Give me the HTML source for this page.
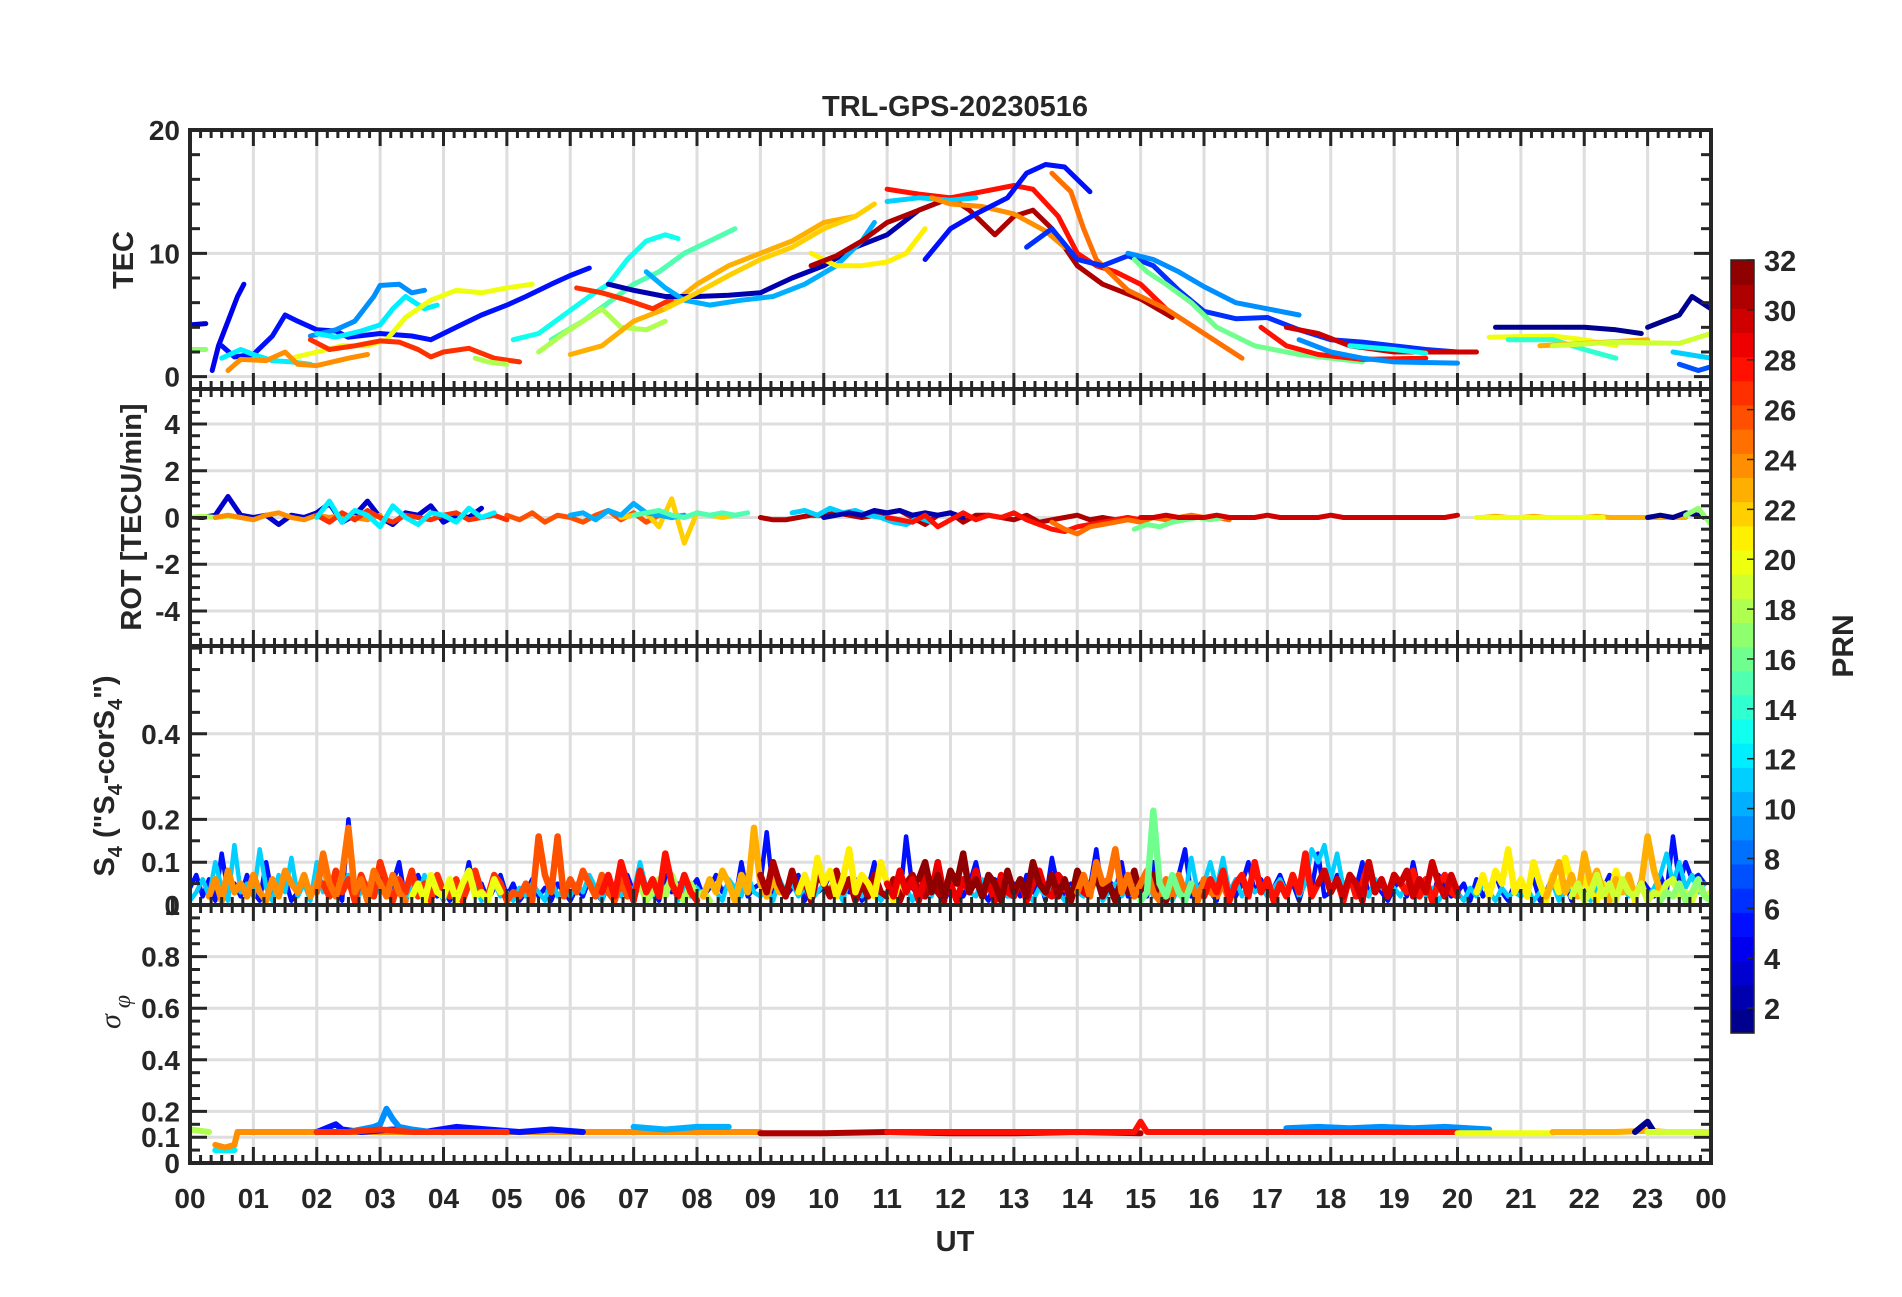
<!DOCTYPE html>
<html><head><meta charset="utf-8"><style>
html,body{margin:0;padding:0;background:#fff}
svg text{font-family:"Liberation Sans",Arial,sans-serif;font-weight:bold;fill:#262626}
</style></head><body>
<svg id="fig" xmlns="http://www.w3.org/2000/svg" width="1902" height="1292" viewBox="0 0 1902 1292">
<rect width="1902" height="1292" fill="#fff"/>
<text x="955" y="116" font-size="29" text-anchor="middle">TRL-GPS-20230516</text>
<text x="955" y="1251" font-size="29" text-anchor="middle">UT</text>
<text transform="translate(133,260) rotate(-90)" font-size="29" text-anchor="middle">TEC</text>
<text transform="translate(141,517) rotate(-90)" font-size="29" text-anchor="middle">ROT [TECU/min]</text>
<text transform="translate(114,776) rotate(-90)" font-size="29" text-anchor="middle">S<tspan font-size="20" dy="8">4</tspan><tspan dy="-8"> ("S</tspan><tspan font-size="20" dy="8">4</tspan><tspan dy="-8">-corS</tspan><tspan font-size="20" dy="8">4</tspan><tspan dy="-8">")</tspan></text>
<text transform="translate(120,1012) rotate(-90)" font-size="30" text-anchor="middle" font-style="italic" style="font-family:'Liberation Serif',serif;font-weight:normal">σ<tspan font-size="24" dy="10"> φ</tspan></text>
<text transform="translate(1853,646) rotate(-90)" font-size="30" text-anchor="middle">PRN</text>
<g id="layer"></g>
</svg>
<script>
// ---------- DATA ----------
const tecPrn = [3,4,5,9,12,12,20,27,24,17,18,13,15,18,23,27,2,10,22,21,31,28,11,24,5,25,6,9,16,30,28,13,9,1,1,20,14,23,19,7,11];
const tecT = [
 [0,0.25],
 [0.35,0.45,0.6,0.75,0.85],
 [0.5,0.7,1.0,1.3,1.5,1.7,2.0,2.3,2.5,3.0,3.5,3.8,4.2,4.6,5.0,5.3,5.7,6.0,6.3],
 [1.9,2.3,2.6,2.9,3.0,3.3,3.5,3.7],
 [0.5,0.8,1.0,1.3,1.6,1.9],
 [2.0,2.3,2.7,3.0,3.2,3.4,3.7,3.9],
 [1.6,2.0,2.4,2.8,3.1,3.4,3.8,4.2,4.6,5.0,5.4],
 [1.9,2.2,2.6,3.0,3.3,3.6,3.8,4.0,4.4,4.8,5.2],
 [0.6,0.8,1.2,1.5,1.7,2.0,2.5,2.8],
 [0,0.25],
 [4.5,4.7,5.0],
 [5.1,5.5,5.9,6.3,6.6,6.9,7.2,7.5,7.7],
 [5.7,6.2,6.6,7.0,7.4,7.8,8.2,8.6],
 [5.5,5.9,6.2,6.5,6.8,7.2,7.5],
 [6.0,6.5,7.0,7.5,8.0,8.5,9.0,9.5,10.0,10.5],
 [6.1,6.5,6.9,7.3,7.6],
 [6.6,7.0,7.5,8.0,8.5,9.0,9.5,10.0,10.5,11.0,11.5,12.0],
 [7.2,7.5,7.8,8.2,8.7,9.2,9.7,10.2,10.6,10.8],
 [7.5,8.0,8.5,9.0,9.5,10.0,10.5,10.8],
 [9.8,10.2,10.6,11.0,11.3,11.6],
 [9.8,10.2,10.6,11.0,11.5,12.0,12.3,12.7,13.0,13.3,13.6,14.0,14.4,15.0,15.5],
 [11.0,11.5,12.0,12.5,13.0,13.3,13.7,14.0,14.3,14.6,15.0,15.4],
 [11.0,11.5,12.0,12.4],
 [11.7,12.0,12.5,13.0,13.5,13.8],
 [11.6,12.0,12.4,12.9,13.2,13.5,13.8,14.2],
 [13.6,13.9,14.1,14.3,14.8,15.4,16.0,16.6],
 [13.2,13.6,14.0,14.4,14.8,15.2,15.6,16.0,16.5,17.0,17.5,18.0,18.5,19.0,19.5,20.0],
 [14.8,15.2,15.6,16.0,16.5,17.0,17.5],
 [14.9,15.1,15.4,15.8,16.2,16.8,17.5,18.0,18.5],
 [17.3,17.8,18.3,19.0,19.5,20.3],
 [16.9,17.3,17.8,18.5,19.5],
 [18.3,19.0,19.5],
 [17.5,18.0,18.5,19.0,20.0],
 [20.6,21.5,22.0,22.5,22.9],
 [23.0,23.5,23.7,24.0],
 [20.5,21.5,22.0,22.5],
 [20.8,21.5,22.0,22.5],
 [21.3,22.0,23.0],
 [21.5,22.5,23.5,24.0],
 [23.5,23.8,24.0],
 [23.4,24.0]
];
const tecV = [
 [4.2,4.3],
 [0.5,2.5,4.5,6.5,7.5],
 [2.5,1.6,1.8,3.3,5.0,4.5,3.8,3.7,3.2,3.5,3.3,3.0,4.0,5.0,5.8,6.5,7.5,8.2,8.8],
 [3.3,3.8,4.5,6.5,7.4,7.5,6.8,7.0],
 [1.5,2.2,1.8,1.3,1.2,1.0],
 [3.5,3.2,3.7,4.2,5.5,6.5,5.5,5.8],
 [1.5,2.0,2.5,2.5,3.0,4.8,6.2,7.0,6.8,7.2,7.5],
 [3.0,2.2,2.5,2.9,2.8,2.2,1.6,2.0,2.3,1.5,1.2],
 [0.5,1.4,1.3,2.0,1.0,0.9,1.5,1.8],
 [2.2,2.2],
 [1.5,1.2,1.0],
 [3.0,3.5,5.0,6.5,7.5,9.5,11.0,11.5,11.2],
 [3.0,4.5,6.0,7.5,8.5,10.0,11.0,12.0],
 [2.0,3.5,4.5,5.5,4.0,3.8,4.5],
 [1.8,2.5,4.5,5.5,7.5,9.0,10.0,11.0,12.5,13.0],
 [7.2,6.8,6.2,5.5,6.3],
 [7.5,7.0,6.5,6.5,6.6,6.8,8.0,9.0,10.5,11.5,13.5,14.5],
 [8.5,7.2,6.2,5.8,6.2,6.5,7.5,9.0,11.0,12.5],
 [5.5,6.8,8.2,9.5,10.5,12.0,13.0,14.0],
 [10.0,9.0,9.0,9.3,10.0,12.0],
 [9.0,9.8,11.0,12.5,13.5,14.5,13.5,11.5,13.0,13.5,12.0,9.0,7.5,6.3,4.8],
 [15.2,14.8,14.5,15.0,15.5,15.2,13.0,10.0,9.0,8.5,7.5,5.5],
 [14.2,14.5,14.3,14.5],
 [14.5,14.0,13.8,13.2,11.8,10.5],
 [9.5,12.0,13.2,14.5,16.5,17.2,17.0,15.0],
 [16.5,15.0,12.0,9.5,7.0,5.5,3.5,1.5],
 [10.5,12.0,9.5,9.0,9.8,9.0,7.0,5.3,4.7,4.8,3.8,3.0,2.8,2.5,2.2,2.0],
 [10.0,9.5,8.5,7.3,6.0,5.5,5.0],
 [9.5,8.5,7.5,6.0,4.0,2.5,1.8,1.5,1.2],
 [4.0,3.5,2.5,2.0,2.0,2.0],
 [4.0,2.5,1.8,1.4,1.5],
 [2.5,2.2,1.9],
 [3.0,2.0,1.5,1.2,1.1],
 [4.0,4.0,4.0,3.8,3.5],
 [4.0,5.0,6.5,5.5],
 [3.2,3.3,3.0,2.5],
 [3.0,3.0,2.2,1.5],
 [2.5,2.7,3.0],
 [2.5,2.8,2.7,3.5],
 [1.0,0.5,0.8],
 [2.0,1.5]
];

const rotPrn = [3,18,24,27,12,26,22,10,15,31,11,2,28,25,16,30,23,20,1,17];
const rotT0 = [0,0,0.4,2,2,5,6.8,6,7,9,9.5,10,11,13.6,14.9,15,20.4,20.3,23,23.6];
const rotV = [
 [0,0,0.1,0.9,0.1,0,0.1,-0.3,0.1,0,0.2,0.6,-0.2,0.1,0.7,0,-0.3,0.2,0.1,0.5,-0.2,0.1,0,0.4],
 [0,0.05,0,0.05,0],
 [0,0.1,0,-0.1,0.1,0.2,0,-0.1,0.1,0,0.1,0,-0.1,0.1],
 [0.1,-0.2,0.2,-0.1,0.3,0,-0.2,0.1,0,-0.1,0.1,0.2,-0.1,0,0.1,-0.1],
 [0,0.7,-0.2,0.3,0.1,-0.4,0.5,0,-0.3,0.2,0.1,-0.2,0.4,0,0.2],
 [0.1,-0.1,0.2,-0.2,0.1,0,-0.2,0.1,0.3,-0.1,0.2,-0.2,0.1,0,0.1],
 [0,0.1,0.2,-0.4,0.8,-1.1,0.2,0.1,0,0.1],
 [0.1,0.2,-0.1,0.3,0.1,0.6,0.2,0.1,0,0.1],
 [0.1,0.2,0.3,0.1,0,0.2,0.1,0.2,0.1,0.2],
 [0,-0.1,-0.1,0,0.1,0.1,0.2,0.1,0,0.1,0.2,0.3,0,-0.3,0.1,0.2,-0.2,0.1,0.1,0,-0.1,0.1,-0.2,-0.1,0,0.1,-0.1,0,-0.1,0],
 [0.2,0.3,0.1,0.4,0.2,0.3,0.1,0,-0.2,-0.3,0,-0.2],
 [0,0.1,0.2,0.1,0.3,0.2,0.3,0.1,0.2,0.1,0.2,0],
 [0,-0.1,-0.2,0.1,-0.4,-0.1,0.2,-0.1,0.1,0,0.2,-0.1,-0.3,-0.5,-0.6,-0.4,-0.3,-0.2,-0.1,0,-0.1,0],
 [-0.2,-0.5,-0.7,-0.4,-0.3,-0.2,-0.1,-0.2,0,-0.1,0,0.1,0,0,-0.1],
 [-0.5,-0.3,-0.4,-0.2,-0.1,0,-0.1,0],
 [0,0,0.1,0,0,0,0.1,0,0,0,0.1,0,0,0,0,0.1,0,0,0,0,0,0,0,0,0,0.1],
 [0,0.05,0,0,0.05,0,0,0,0,0.05,0,0,0,0,0,0,0],
 [0,0,0,0,0,0,0,0,0,0,0],
 [0,0.1,0,0.2,0.1,-0.1,0,0.4,-0.5,0.3,0.1],
 [0.1,0.4,-0.3]
];

// S4 tracks (values x0.01), start hour, 0.1 h step
const s4Prn = [5,11,24,27,25,20,26,18,28,23,31,21,29,32,25,28,30,16,21,23,19,17];
const s4T0 = [0,0,0.3,2.1,2.0,3.5,5.0,7.0,6.5,8.1,9.0,9.6,11.0,11.5,14.0,16.0,17.8,15.0,20.3,21.4,21.8,23.2];
const s4V = [
 [4,7,2,6,1,12,3,5,2,7, 3,1,10,2,4,6,1,3,7,2, 4,11,2,5,1,20,3,6,2,4, 7,2,5,10,1,4,7,3,6,2, 4,1,6,3,10,2,5,1,4,7, 2,5,1,3,6,2,4,1,5,3, 1,4,2,6,3,1,5,2,4,7, 3,6,2,4,1,7,3,5,2,4, 6,2,4,7,3,5,1,10,2,4, 5,17,3,6,2,4,7,1,5,3, 4,7,2,5,3,6,1,4,10,2, 3,6,1,16,4,2,7,3,5,1, 4,7,2,5,10,3,1,6,4,2, 5,2,7,3,6,1,11,4,2,5, 3,7,4,13,2,6,3,10,2,4, 5,2,10,3,6,1,7,13,2,4, 6,3,1,7,4,2,5,10,3,6, 2,4,7,3,5,1,6,4,12,2, 3,7,2,5,4,10,2,6,3,1, 4,6,2,10,3,5,1,7,4,2, 3,5,1,6,2,4,7,3,1,5, 2,4,6,1,3,7,2,5,1,4, 3,6,2,4,7,1,5,3,2,6, 4,2,7,3,16,5,10,6,7,5],
 [1,3,6,2,10,4,1,14,3,5, 2,13,4,1,7,3,11,2,5,1, 10,3,6,2,4,7,1,3,5,2, 4,2,6,3,1,5,2,7,3,4, 1,5,3,2,6,4,1,3,5,2, 3,1,4,2,5,3,1,6,2,4, 2,5,3,7,4,1,6,3,2,5, 3,10,4,2,6,3,5,1,4,2, 4,2,5,3,1,6,4,2,7,3, 2,4,1,6,3,5,2,4,1,3, 5,2,4,1,6,3,2,5,4,1, 3,6,2,4,1,5,3,2,6,4, 4,1,5,3,2,6,4,1,3,2, 2,5,3,1,4,2,6,3,1,4, 3,2,4,6,1,3,5,2,4,3, 4,6,2,3,5,1,4,2,11,3, 5,10,4,11,3,6,2,5,3,4, 2,4,6,3,7,2,5,13,10,14, 6,12,4,7,3,5,2,6,4,3, 4,2,5,3,6,2,4,1,3,5, 3,1,4,2,5,3,1,4,2,3, 2,4,1,3,2,5,1,3,4,2, 3,1,4,2,3,1,5,2,3,4, 2,4,7,12,5,10,4,7,3,5],
 [2,6,1,8,3,5,2,7,3,1,6,2,8,5,3,7,2,5,10,3],
 [5,2,8,3,6,1,7,3,2,10,5,1,6,3,8,2,5,1,7,3,2,6,1,5,8,3,2,7,5,1],
 [3,12,5,2,7,18,3,6,1,8,5,2,7,3,1],
 [2,5,1,7,3,2,6,1,5,8,2,3,1,6,3],
 [1,3,2,5,1,16,7,3,16,2,6,3,8,5,2,7,3,1,6,2],
 [2,5,1,3,6,2,7,3,1,5,2,3,1],
 [3,7,2,10,5,1,8,3,6,2,12,5,2,7,3,1],
 [2,6,3,8,5,1,7,3,18,5,2,6,3],
 [7,3,10,5,2,8,3,6,1,7,5,2,8,3,6,1,5,2,7,3,2,6,1,5,7,3,2,6,3,1],
 [3,7,2,11,5,8,2,6,13,3,7,5,2,10,5,1,6,3],
 [5,2,8,3,6,1,7,3,10,2,5,1,6,3,8,2,5,1,7,3,2,6,1,5,8,3,2,7,5,1,6,3,2],
 [6,10,3,7,2,8,5,12,3,6,2,7,5,1,8,3,6,2,10,5,3,7,2,6,1,8,5,3,7,2,5,1,6,3,8,2,5,7,3,1,6],
 [3,7,2,10,5,6,13,3,7,2,5,8,3,1,6,2,7,3,5,1,6,3,2,5,1],
 [2,6,3,8,1,5,7,2,10,3,6,1,5,2,7,3,12,2,5,8,3,6,1,7,2,5,10,3,6,2,7,5,3,8,2,6,1,5,7,3,2],
 [5,8,3,6,2,7,5,1,10,3,6,2,7,5,8,2,6,3,10,5,2,7,3],
 [1,3,22,5,2,7,3,1,5],
 [3,7,2,8,5,13,3,6,2,10,5,1,7,3,11,5,2,6,3,1,5,2,8,3,6,1],
 [2,6,10,3,7,2,12,5,8,3,1,6,3,7,2,5,16,8,3],
 [2,5,1,3,7,2,5,1,6,3,2,5,1,3,2,5,6,2,3,1,5,2,3],
 [1,3,2,5,1,3,6,2,1]
];

const sigPrn = [18,12,24,5,9,27,10,31,28,9,28,20,23,1,19];
const sigT = [
 [0,0.3],[0.4,0.55,0.7],[0.4,0.55,0.7,0.75,1.5,2.5,3.5,4.5,5.5,6.5,7.5,8.5,9.0],
 [2.0,2.2,2.3,2.4,2.7,3.2,3.7,4.2,4.7,5.2,5.7,6.2],
 [2.5,2.7,2.9,3.0,3.1,3.2,3.3,3.5,3.8,4.0],
 [2.0,2.5,3.0,3.5,4.0,4.5,5.0],[7.0,7.5,8.0,8.5],
 [9.0,10.0,11.0,12.0,13.0,14.0,15.0],
 [11.0,12.0,13.0,14.0,14.9,15.0,15.1,15.5],
 [17.3,17.8,18.3,18.8,19.3,19.8,20.5],
 [15.5,16.5,17.5,18.5,19.5,20.0],
 [20.0,20.7,21.5],[21.5,22.0,22.5,23.0,23.3],[22.8,23.0,23.1,23.2],[23.0,23.5,24.0]
];
const sigV = [
 [0.13,0.12],[0.05,0.05,0.05],[0.07,0.06,0.07,0.12,0.12,0.12,0.12,0.12,0.12,0.12,0.12,0.12,0.12],
 [0.12,0.14,0.15,0.13,0.12,0.13,0.12,0.14,0.13,0.12,0.13,0.12],
 [0.12,0.13,0.14,0.15,0.21,0.17,0.14,0.13,0.12,0.12],
 [0.12,0.12,0.13,0.12,0.12,0.12,0.12],[0.14,0.13,0.14,0.14],
 [0.115,0.115,0.12,0.115,0.115,0.12,0.115],
 [0.12,0.12,0.12,0.12,0.12,0.16,0.12,0.12],
 [0.135,0.14,0.135,0.14,0.135,0.14,0.13],
 [0.12,0.12,0.12,0.12,0.12,0.12],
 [0.115,0.115,0.115],[0.12,0.12,0.12,0.125,0.12],[0.12,0.16,0.12,0.12],[0.12,0.12,0.12]
];

const hourLabels = ['00','01','02','03','04','05','06','07','08','09','10','11','12','13','14','15','16','17','18','19','20','21','22','23','00'];
const cbTicks = [2,4,6,8,10,12,14,16,18,20,22,24,26,28,30,32];

// ---------- LAYOUT ----------
const NS='http://www.w3.org/2000/svg';
const layer=document.getElementById('layer');
const X0=190, X1=1711;
const xS=h=>X0+h*(X1-X0)/24;
const panels=[
 {name:'tec',top:130,bot:389,ymin:-1,ymax:20,major:[0,10,20],labels:['0','10','20'],minorStep:2,grid:[0,10,20]},
 {name:'rot',top:389,bot:646,ymin:-5.5,ymax:5.5,major:[-4,-2,0,2,4],labels:['-4','-2','0','2','4'],minorStep:0.5,grid:[-4,-2,0,2,4]},
 {name:'s4',top:646,bot:905,ymin:0,ymax:0.605,major:[0,0.1,0.2,0.4],labels:['0','0.1','0.2','0.4'],minorStep:0.05,grid:[0.1,0.2,0.4]},
 {name:'sigma',top:905,bot:1163,ymin:0,ymax:1,major:[0,0.1,0.2,0.4,0.6,0.8,1],labels:['0','0.1','0.2','0.4','0.6','0.8','1'],minorStep:0.05,grid:[0.1,0.2,0.4,0.6,0.8]}
];
panels.forEach(p=>{p.y=v=>p.bot-(v-p.ymin)/(p.ymax-p.ymin)*(p.bot-p.top);});
function jet(prn){const v=(prn-0.5)/32;const c=x=>Math.round(255*Math.max(0,Math.min(1,x)));
 return `rgb(${c(Math.min(4*v-1.5,-4*v+4.5))},${c(Math.min(4*v-0.5,-4*v+3.5))},${c(Math.min(4*v+0.5,-4*v+2.5))})`;}
function mk(tag,attrs,parent){const e=document.createElementNS(NS,tag);for(const k in attrs)e.setAttribute(k,attrs[k]);(parent||layer).appendChild(e);return e;}

const defs=mk('defs',{});
panels.forEach((p,i)=>{
 const cp=mk('clipPath',{id:'clip'+i},defs);mk('rect',{x:X0,y:p.top,width:X1-X0,height:p.bot-p.top},cp);
 const g=mk('g',{});
 
 
 for(let h=1;h<24;h++)mk('line',{x1:xS(h),x2:xS(h),y1:p.top,y2:p.bot,stroke:'#dedede','stroke-width':3},g);
 p.grid.forEach(v=>mk('line',{x1:X0,x2:X1,y1:p.y(v),y2:p.y(v),stroke:'#dedede','stroke-width':3},g));
});

function drawLine(p,i,xs,ys,prn,w,name){
 const pts=xs.map((x,k)=>xS(x).toFixed(1)+','+p.y(ys[k]).toFixed(1)).join(' ');
 const e=mk('polyline',{points:pts,fill:'none',stroke:jet(prn),'stroke-width':w,'stroke-linejoin':'round','stroke-linecap':'round','clip-path':`url(#clip${i})`});
 
 
}
tecT.forEach((ts,k)=>drawLine(panels[0],0,ts,tecV[k],tecPrn[k],5,'tec-line-prn'+tecPrn[k]));
rotV.forEach((vs,k)=>{const ts=vs.map((_,j)=>rotT0[k]+j*0.2);drawLine(panels[1],1,ts,vs,rotPrn[k],5,'rot-line-prn'+rotPrn[k]);});
s4V.forEach((vs,k)=>{const ts=vs.map((_,j)=>s4T0[k]+j*0.1);drawLine(panels[2],2,ts,vs.map(v=>v/100),s4Prn[k],k<2?4.5:6.5,'s4-line-prn'+s4Prn[k]);});
sigT.forEach((ts,k)=>drawLine(panels[3],3,ts,sigV[k],sigPrn[k],6,'sigma-line-prn'+sigPrn[k]));

const ink='#262626';
panels.forEach((p,i)=>{
 const g=mk('g',{});
 
 
 for(let m=0;m<=144;m++){const x=xS(m/6);const L=(m%6===0)?16:8;
  mk('line',{x1:x,x2:x,y1:p.top,y2:p.top+L,stroke:ink,'stroke-width':3},g);
  mk('line',{x1:x,x2:x,y1:p.bot,y2:p.bot-L,stroke:ink,'stroke-width':3},g);}
 const n=Math.round((p.ymax-p.ymin)/p.minorStep)+2;
 const start=Math.ceil(p.ymin/p.minorStep)*p.minorStep;
 for(let j=0;j<n;j++){const v=start+j*p.minorStep;if(v>p.ymax+1e-9)break;const y=p.y(v);
  const isMaj=p.major.some(m=>Math.abs(m-v)<1e-6);const L=isMaj?17:10;
  mk('line',{x1:X0,x2:X0+L,y1:y,y2:y,stroke:ink,'stroke-width':3},g);
  mk('line',{x1:X1,x2:X1-L,y1:y,y2:y,stroke:ink,'stroke-width':3},g);}
 mk('rect',{x:X0,y:p.top,width:X1-X0,height:p.bot-p.top,fill:'none',stroke:ink,'stroke-width':4},g);
 p.major.forEach((v,j)=>{const t=mk('text',{x:180,y:p.y(v)+10,'font-size':28,'text-anchor':'end'});t.textContent=p.labels[j];
  
  });
});
hourLabels.forEach((s,h)=>{const t=mk('text',{x:xS(h),y:1208,'font-size':28,'text-anchor':'middle'});t.textContent=s;
 
 });

const CB={x:1731,w:23,top:260,bot:1033};
const cg=mk('g',{});


for(let k=1;k<=32;k++){const h=(CB.bot-CB.top)/32;
 mk('rect',{x:CB.x,y:CB.bot-k*h,width:CB.w,height:h+0.6,fill:jet(k)},cg);}
mk('rect',{x:CB.x,y:CB.top,width:CB.w,height:CB.bot-CB.top,fill:'none',stroke:ink,'stroke-width':1.5},cg);
cbTicks.forEach(v=>{const y=CB.bot-(v-1)/31*(CB.bot-CB.top);
 mk('line',{x1:CB.x+CB.w-7,x2:CB.x+CB.w,y1:y,y2:y,stroke:ink,'stroke-width':1.5},cg);
 const t=mk('text',{x:1764,y:y+11,'font-size':29},cg);t.textContent=v;
 
 });
</script>
</body></html>
